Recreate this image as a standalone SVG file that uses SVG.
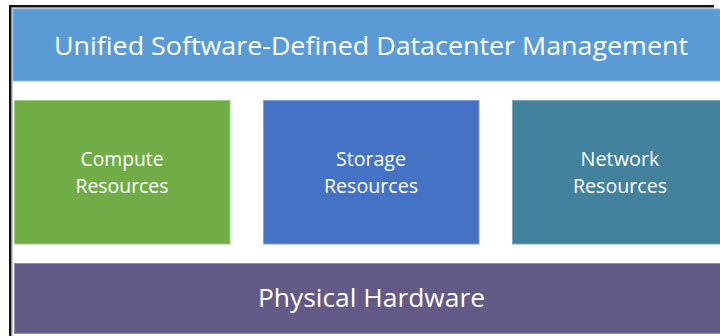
<svg xmlns="http://www.w3.org/2000/svg" width="720" height="336" viewBox="0 0 720 336">
<style>
.t{font-family:"Open Sans","Liberation Sans",sans-serif;fill:#ffffff;text-anchor:middle}
.big{font-size:26px}
.sm{font-size:19.5px}
.box{stroke-width:1}
</style>
<rect x="0" y="0" width="720" height="336" fill="#ffffff"/>
<g id="frame">
<rect x="9" y="5" width="705" height="2.5" fill="#111111"/>
<rect x="9" y="5" width="2.5" height="331" fill="#111111"/>
<rect x="11.5" y="7.5" width="702" height="1" fill="#9a9a9a"/>
<rect x="11.5" y="7.5" width="1" height="328.5" fill="#9a9a9a"/>
</g>
<g id="management">
<rect x="13" y="9" width="708" height="72" fill="#5B9BD5" stroke="#8ab8e3" class="box"/>
<text class="t big" x="371" y="55" textLength="634" lengthAdjust="spacingAndGlyphs">Unified Software-Defined Datacenter Management</text>
</g>
<g id="compute">
<rect x="14.5" y="100.5" width="215.5" height="143.5" fill="#70AD47" stroke="#9fcb84" class="box"/>
<text class="t sm" x="122" y="166" textLength="83" lengthAdjust="spacingAndGlyphs">Compute</text>
<text class="t sm" x="122" y="193" textLength="93" lengthAdjust="spacingAndGlyphs">Resources</text>
</g>
<g id="storage">
<rect x="263.5" y="100.5" width="215.5" height="143.5" fill="#4472C4" stroke="#7f9edb" class="box"/>
<text class="t sm" x="371" y="166" textLength="70" lengthAdjust="spacingAndGlyphs">Storage</text>
<text class="t sm" x="371" y="193" textLength="94" lengthAdjust="spacingAndGlyphs">Resources</text>
</g>
<g id="network">
<rect x="512.5" y="100.5" width="215.5" height="143.5" fill="#43829C" stroke="#7aa8bb" class="box"/>
<text class="t sm" x="620" y="166" textLength="79" lengthAdjust="spacingAndGlyphs">Network</text>
<text class="t sm" x="620" y="193" textLength="94" lengthAdjust="spacingAndGlyphs">Resources</text>
</g>
<g id="hardware">
<rect x="14.5" y="263.5" width="710" height="70" fill="#635A87" stroke="#938cb0" class="box"/>
<text class="t big" x="371.5" y="307" textLength="227" lengthAdjust="spacingAndGlyphs">Physical Hardware</text>
</g>
<g id="connectors"></g>
</svg>
